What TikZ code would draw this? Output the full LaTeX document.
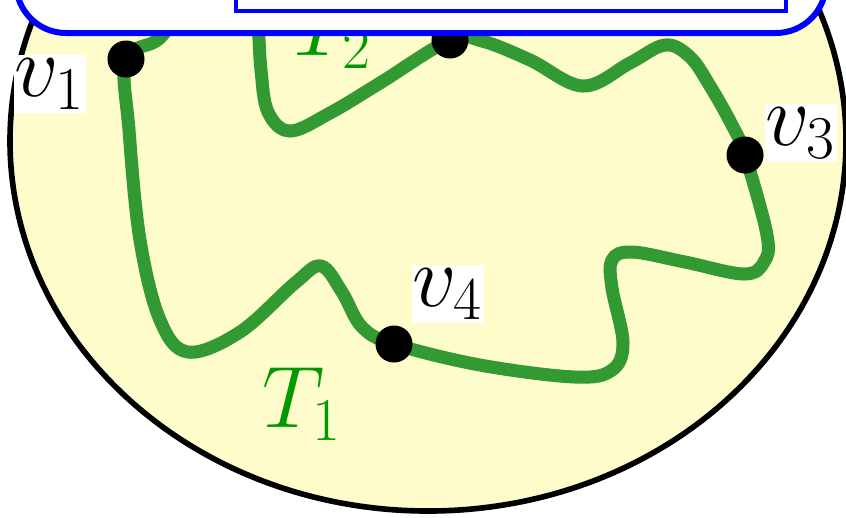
\documentclass[tikz,border=0pt]{standalone}
\definecolor{treegreen}{RGB}{51,153,51}
\begin{document}
\begin{tikzpicture}[x=0.01cm, y=-0.01cm,
    vdot/.style={circle, fill=black, inner sep=0pt, minimum size=0.37cm},
    vlabel/.style={fill=white, inner xsep=0.2pt, inner ysep=1.1pt, font=\fontsize{24}{29}\selectfont},
    tlabel/.style={text=green!60!black, inner sep=0pt, anchor=base west, font=\fontsize{24}{29}\selectfont}]
    \useasboundingbox (0,0) rectangle (846,517);

    % The region
    \draw[line width=1.6pt, fill=yellow!20] (428,141) ellipse [x radius=418, y radius=370];

    % Where the vertices sit
    \coordinate (c1) at (126,59);
    \coordinate (c2) at (450,40);
    \coordinate (c3) at (745,155);
    \coordinate (c4) at (394,344);

    % The trees T_1 and T_2 (one closed curve)
    \draw[treegreen, line width=3.7pt] plot[smooth cycle, tension=0.6] coordinates {
        (190,-5) (160,38) (c1) (129,130) (140,240) (160,320) (188,352) (240,332)
        (295,283) (321,266) (342,292) (362,327) (c4) (480,365) (575,377) (612,370)
        (623,343) (612,288) (612,260) (632,252) (685,262) (744,274) (764,262) (767,235) (c3)
        (732,125) (710,86) (690,57) (665,45) (630,63) (583,86) (530,60) (482,41) (c2) (380,83)
        (330,113) (290,131) (268,112) (261,70) (258,20) (255,-20) (225,-40)};
    \node[tlabel] (t1) at (262,427) {$T_1$};
    \node[tlabel] (t2) at (292,55) {$T_2$};

    % Vertices
    \node[vdot] (v1) at (c1) {};
    \node[vdot] (v2) at (c2) {};
    \node[vdot] (v3) at (c3) {};
    \node[vdot] (v4) at (c4) {};
    \node[vlabel] (l1) at (50,84) {$v_1$};
    \node[vlabel] (l3) at (801,133) {$v_3$};
    \node[vlabel] (l4) at (448,294) {$v_4$};

    % The box on top
    \draw[blue, line width=1.7pt, fill=white, rounded corners=0.5cm] (16,-200) rectangle (826,33);
    \draw[blue, line width=1.2pt, fill=white] (236,-200) rectangle (786,11);
\end{tikzpicture}
\end{document}
